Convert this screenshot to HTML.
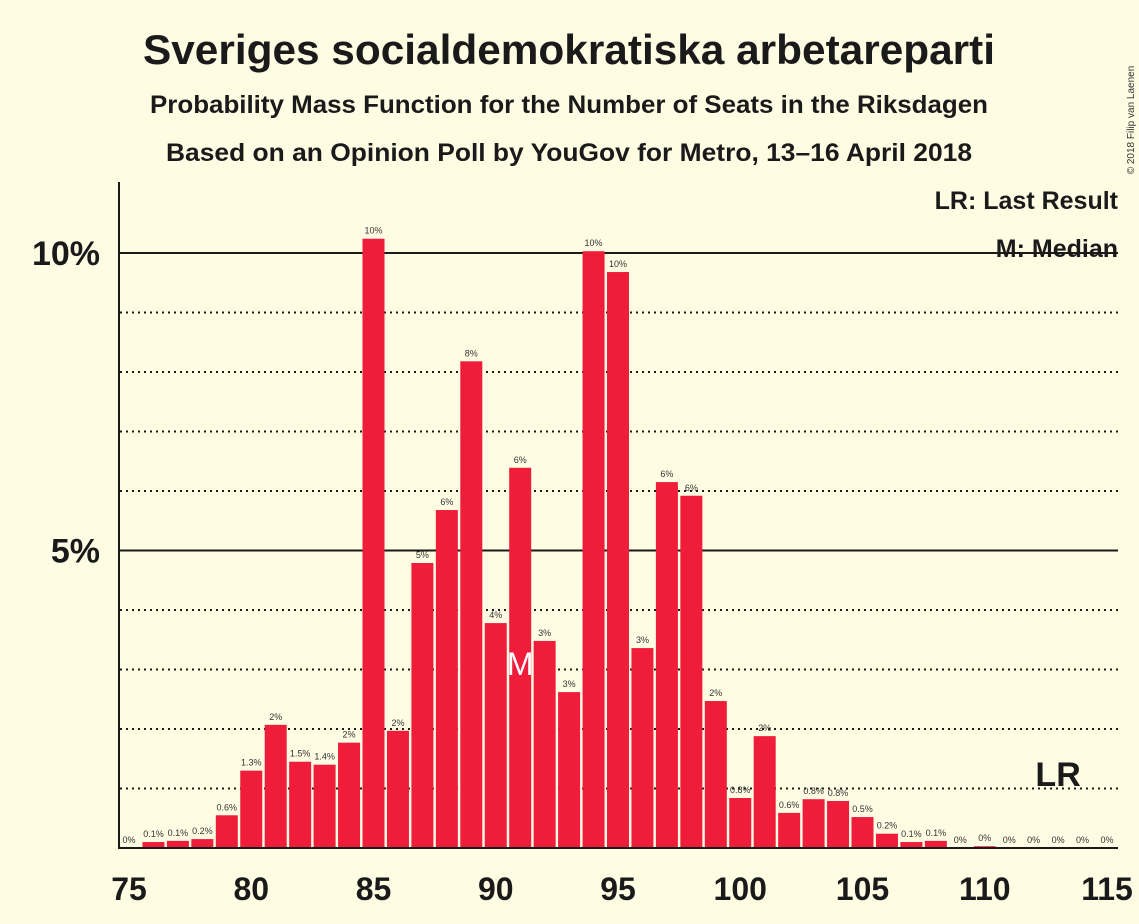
<!DOCTYPE html>
<html><head><meta charset="utf-8"><style>
body{margin:0;background:#fefce3;}
svg{display:block;font-family:"Liberation Sans",sans-serif;}
</style></head><body>
<svg id="c" width="1139" height="924">
<rect width="1139" height="924" fill="#fefce3"/>
<text x="569" y="64" text-anchor="middle" font-size="42" font-weight="bold" fill="#1a1a1a" textLength="852" lengthAdjust="spacingAndGlyphs">Sveriges socialdemokratiska arbetareparti</text>
<text x="569" y="113" text-anchor="middle" font-size="25" font-weight="bold" fill="#1a1a1a" textLength="838" lengthAdjust="spacingAndGlyphs">Probability Mass Function for the Number of Seats in the Riksdagen</text>
<text x="569" y="161" text-anchor="middle" font-size="25" font-weight="bold" fill="#1a1a1a" textLength="806" lengthAdjust="spacingAndGlyphs">Based on an Opinion Poll by YouGov for Metro, 13–16 April 2018</text>
<text x="1134" y="120" transform="rotate(-90 1134 120)" text-anchor="middle" font-size="10" fill="#333">© 2018 Filip van Laenen</text>
<g id="grid"></g><g id="bars"></g><g id="labels"></g>
<text x="1118" y="209" text-anchor="end" font-size="25" font-weight="bold" fill="#1a1a1a">LR: Last Result</text>
<text x="1118" y="257" text-anchor="end" font-size="25" font-weight="bold" fill="#1a1a1a">M: Median</text>
</svg>
<script>
const seats=[75,76,77,78,79,80,81,82,83,84,85,86,87,88,89,90,91,92,93,94,95,96,97,98,99,100,101,102,103,104,105,106,107,108,109,110,111,112,113,114,115];
const values=[0,0.1,0.12,0.15,0.55,1.3,2.07,1.45,1.4,1.77,10.24,1.97,4.79,5.68,8.18,3.78,6.39,3.48,2.62,10.03,9.68,3.36,6.15,5.92,2.47,0.84,1.88,0.59,0.82,0.79,0.52,0.24,0.1,0.12,0,0.03,0,0,0,0,0];
const labels=["0%","0.1%","0.1%","0.2%","0.6%","1.3%","2%","1.5%","1.4%","2%","10%","2%","5%","6%","8%","4%","6%","3%","3%","10%","10%","3%","6%","6%","2%","0.8%","2%","0.6%","0.8%","0.8%","0.5%","0.2%","0.1%","0.1%","0%","0%","0%","0%","0%","0%","0%"];
const xTicks=[75,80,85,90,95,100,105,110,115];
const yTicks=[5,10];
const median=91, lastResult=113;
const NS="http://www.w3.org/2000/svg";
const x=s=>129+(s-75)*24.45;
const y=v=>848-v*59.5;
function mk(t,a,p){const e=document.createElementNS(NS,t);for(const k in a)e.setAttribute(k,a[k]);p.appendChild(e);return e;}
const svg=document.getElementById('c'),g=document.getElementById('grid'),b=document.getElementById('bars'),l=document.getElementById('labels');
for(let v=1;v<=10;v++){
 const ln=mk('line',{x1:120,x2:1118,y1:y(v),y2:y(v),stroke:'#1a1a1a','stroke-width':2,'stroke-dasharray':v%5==0?'':'2,4'},g);
 
 
}
yTicks.forEach(v=>{const t=mk('text',{x:100,y:y(v)+12,'text-anchor':'end','font-size':34,'font-weight':'bold',fill:'#1a1a1a'},svg);t.textContent=v+'%';
 
 });
xTicks.forEach(s=>{const t=mk('text',{x:x(s),y:900,'text-anchor':'middle','font-size':32,'font-weight':'bold',fill:'#1a1a1a'},svg);t.textContent=s;
 
 });
seats.forEach((s,i)=>{
 const v=values[i];
 if(v>0){const r=mk('rect',{x:x(s)-11,y:y(v),width:22,height:v*59.5,fill:'#ef1c3a'},b);
 
 }
 const t=mk('text',{x:x(s),y:y(v)-5,'text-anchor':'middle','font-size':9,fill:'#333'},l);t.textContent=labels[i];
 
 
});
const m=mk('text',{x:x(median),y:675,'text-anchor':'middle','font-size':32,fill:'#fff'},l);m.textContent='M';


const lr=mk('text',{x:x(lastResult),y:786,'text-anchor':'middle','font-size':34,'font-weight':'bold',fill:'#1a1a1a'},l);lr.textContent='LR';


const ya=mk('line',{x1:119,x2:119,y1:182,y2:849,stroke:'#1a1a1a','stroke-width':2},svg);


const xa=mk('line',{x1:118,x2:1118,y1:848,y2:848,stroke:'#1a1a1a','stroke-width':2},svg);


</script>
</body></html>
